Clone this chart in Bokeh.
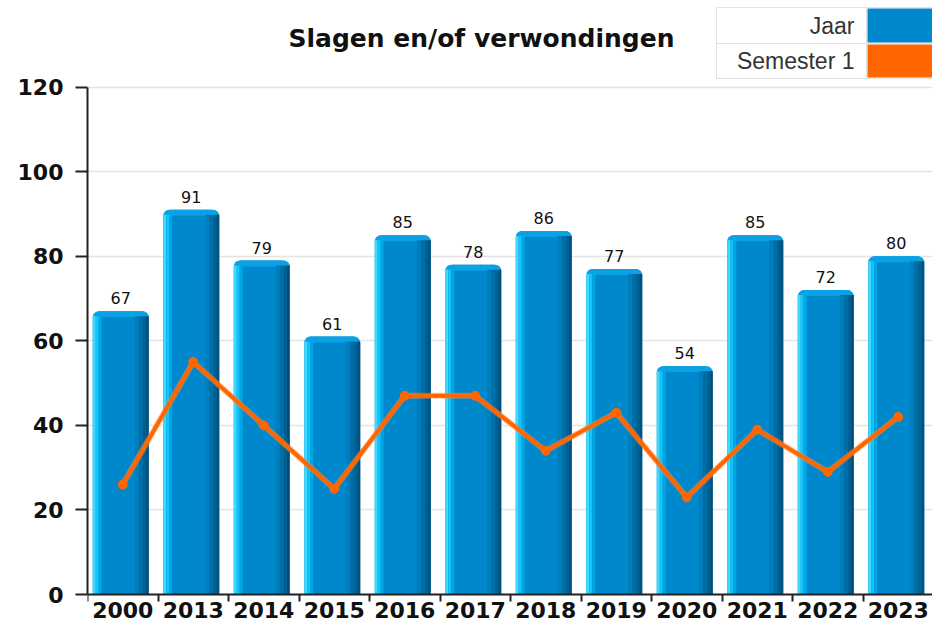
from bokeh.plotting import figure
from bokeh.models import ColumnDataSource, FixedTicker, Range1d
from bokeh.transform import dodge
from bokeh.core.properties import value
from bokeh.embed import file_html
from bokeh.resources import INLINE

# ---- data ----
years = ["2000", "2013", "2014", "2015", "2016", "2017", "2018", "2019", "2020", "2021", "2022", "2023"]
jaar = [67, 91, 79, 61, 85, 78, 86, 77, 54, 85, 72, 80]
semester1 = [26, 55, 40, 25, 47, 47, 34, 43, 23, 39, 29, 42]
y_ticks = [0, 20, 40, 60, 80, 100, 120]
title_text = "Slagen en/of verwondingen"
legend_labels = ["Jaar", "Semester 1"]

# ---- layout constants (figure pixel space) ----
W, H = 932, 626
FRAME_L = 87
SLOT = 70.5
ZERO_PX = 594.0              # where value 0 sits inside the figure
Y120 = 86.7                  # where 120 sits inside the figure
PPU = (ZERO_PX - Y120) / 120.0
Y_END = 120 + Y120 / PPU
Y_START = -(H - ZERO_PX) / PPU
X_START = -0.5
X_END = X_START + (W - FRAME_L) / SLOT


def xd(fx):
    return X_START + (fx - FRAME_L) / SLOT


def yd(fy):
    return (ZERO_PX - fy) / PPU


BLUE = "#0088cc"
ORANGE = "#ff6600"
FONT = "DejaVu Sans"

src = ColumnDataSource(dict(
    x=list(range(len(years))),
    jaar=jaar,
    sem=semester1,
    lbl=[str(v) for v in jaar],
))

p = figure(width=W, height=H, output_backend="svg", toolbar_location=None,
           x_range=Range1d(X_START, X_END), y_range=Range1d(Y_START, Y_END),
           min_border_left=FRAME_L, min_border_right=0, min_border_top=0,
           min_border_bottom=0)
p.outline_line_color = None
p.background_fill_color = "white"
p.border_fill_color = "white"

# grid
p.xgrid.visible = False
p.ygrid.ticker = FixedTicker(ticks=y_ticks)
p.ygrid.grid_line_color = "#e4e4e4"
p.ygrid.grid_line_width = 1.5

# y axis
p.yaxis.ticker = FixedTicker(ticks=y_ticks)
p.yaxis.bounds = (0, 120)
p.yaxis.axis_line_color = "#222222"
p.yaxis.axis_line_width = 2
p.yaxis.major_tick_line_color = "#222222"
p.yaxis.major_tick_line_width = 2
p.yaxis.major_tick_out = 12
p.yaxis.major_tick_in = 0
p.yaxis.minor_tick_line_color = None
p.yaxis.major_label_standoff = 12
p.yaxis.major_label_text_font = FONT
p.yaxis.major_label_text_font_style = "bold"
p.yaxis.major_label_text_font_size = "22px"
p.yaxis.major_label_text_color = "#111111"

# x axis pinned at value 0: labels at bar centres, ticks at slot boundaries
p.xaxis.fixed_location = 0
p.xaxis.ticker = FixedTicker(ticks=list(range(len(years))),
                             minor_ticks=[i - 0.5 for i in range(len(years) + 1)])
p.xaxis.major_label_overrides = {i: y for i, y in enumerate(years)}
p.xaxis.axis_line_color = "#222222"
p.xaxis.axis_line_width = 2
p.xaxis.major_tick_line_color = None
p.xaxis.major_tick_out = 7
p.xaxis.major_tick_in = 0
p.xaxis.minor_tick_line_color = "#222222"
p.xaxis.minor_tick_line_width = 2
p.xaxis.minor_tick_out = 7
p.xaxis.minor_tick_in = 0
p.xaxis.major_label_standoff = 0
p.xaxis.major_label_text_font = FONT
p.xaxis.major_label_text_font_style = "bold"
p.xaxis.major_label_text_font_size = "22px"
p.xaxis.major_label_text_color = "#111111"

# ---- bars with pseudo-3D shading ----
BW_PX = 56.0
C_OFF = -2.0 / SLOT
p.vbar(x=dodge("x", C_OFF), top="jaar", bottom=0, width=BW_PX / SLOT, source=src,
       fill_color=BLUE, line_color=None, border_radius=(7, 7, 0, 0))
# lighter top rim
p.vbar(x=dodge("x", C_OFF), top="jaar", bottom=dodge("jaar", -6 / PPU),
       width=BW_PX / SLOT, source=src, fill_color="#0aa2e4", line_color=None,
       border_radius=(7, 7, 0, 0))
strips = [
    (0, 3, "#3fd8ff"), (3, 3, "#12c4fa"), (6, 3, "#00a6e4"),
    (BW_PX - 14, 4, "#007dbb"), (BW_PX - 10, 4, "#006ea6"),
    (BW_PX - 6, 3, "#005f8f"), (BW_PX - 3, 3, "#005080"),
]
for left, wpx, col in strips:
    off = C_OFF + (-BW_PX / 2 + left + wpx / 2) / SLOT
    p.vbar(x=dodge("x", off), top=dodge("jaar", -5 / PPU), bottom=0, width=wpx / SLOT,
           source=src, fill_color=col, line_color=None)

# value labels
p.text(x=dodge("x", C_OFF), y="jaar", text="lbl", source=src, y_offset=-13,
       text_align="center", text_baseline="alphabetic",
       text_font=value(FONT), text_font_size="16px", text_color="#111111")

# ---- semester line ----
p.line(x="x", y="sem", source=src, line_color="#ff8a40", line_width=6, line_alpha=0.5)
p.line(x="x", y="sem", source=src, line_color=ORANGE, line_width=4)
p.scatter(x="x", y="sem", source=src, marker="circle", size=9,
          fill_color=ORANGE, line_color=ORANGE)

# ---- title ----
p.text(x=[xd(481)], y=[yd(38)], text=[title_text], text_align="center",
       text_baseline="middle", text_font=value(FONT), text_font_style="bold",
       text_font_size="25px", text_color="#111111")

# ---- legend (label left, swatch right) ----
LG_L, LG_R, LG_SW = 716, W + 20, 867
LG_T, LG_M, LG_B = 7, 43, 78
rows = [(LG_T, LG_M), (LG_M, LG_B)]
p.quad(left=[xd(LG_L)], right=[xd(LG_R)], top=[yd(LG_T)], bottom=[yd(LG_B)],
       fill_color="white", line_color="#e2e2e2", line_width=1)
p.segment(x0=[xd(LG_L)], x1=[xd(LG_R)], y0=[yd(LG_M)], y1=[yd(LG_M)],
          line_color="#e2e2e2", line_width=1)
p.segment(x0=[xd(LG_SW - 1)], x1=[xd(LG_SW - 1)], y0=[yd(LG_T)], y1=[yd(LG_B)],
          line_color="#e2e2e2", line_width=1)
p.quad(left=[xd(LG_SW), xd(LG_SW)], right=[xd(LG_R), xd(LG_R)],
       top=[yd(r[0] + 1) for r in rows], bottom=[yd(r[1] - 1) for r in rows],
       fill_color=[BLUE, ORANGE], line_color=None)
p.text(x=[xd(LG_SW - 13)] * 2, y=[yd((r[0] + r[1]) / 2) for r in rows],
       text=legend_labels, text_align="right", text_baseline="middle",
       text_font=value("Liberation Sans"), text_font_size="23px", text_color="#333333")

open("out.html", "w").write(file_html(p, INLINE))
